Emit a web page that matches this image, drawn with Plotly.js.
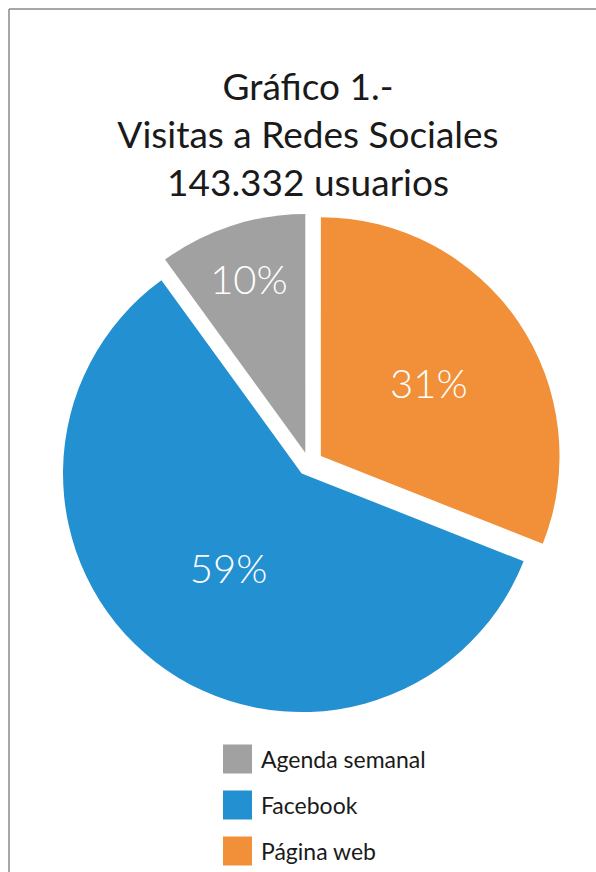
<!DOCTYPE html>
<html><head><meta charset="utf-8">
<script src="https://cdn.plot.ly/plotly-3.0.1.min.js"></script>
<style>html,body{margin:0;padding:0;background:#fff;} #chart{width:596px;height:872px;}</style>
</head><body><div id="chart"></div>
<script>
const categories = ['Agenda semanal', 'Facebook', 'Página web'];
const percentages = [10, 59, 31];
const colors = ['#A0A1A0', '#2290D1', '#F19039'];
const titleLines = ['Gráfico 1.-', 'Visitas a Redes Sociales', '143.332 usuarios'];

const W = 596, H = 872;
const px = x => x / W, py = y => 1 - y / H;
const FONT = 'Lato, "Open Sans", sans-serif';

// Slices run clockwise from 12 o'clock: Página web, Facebook, Agenda semanal
const rev = a => a.slice().reverse();

const trace = {
  type: 'pie',
  labels: rev(categories),
  values: rev(percentages),
  sort: false,
  direction: 'clockwise',
  rotation: 0,
  marker: {colors: rev(colors), line: {width: 0}},
  pull: [0.06, 0.05, 0.05],
  textinfo: 'percent',
  textposition: 'inside',
  insidetextorientation: 'horizontal',
  textfont: {family: FONT, size: 40, color: '#ffffff', weight: 300},
  hoverinfo: 'none',
  showlegend: false,
  domain: {x: [px(56), px(562)], y: [py(717), py(211)]}
};

const shapes = [
  {type: 'line', xref: 'paper', yref: 'paper', x0: px(9), x1: 1.01, y0: py(9), y1: py(9), line: {color: '#8a8a8a', width: 1.5}},
  {type: 'line', xref: 'paper', yref: 'paper', x0: px(9), x1: px(9), y0: py(9), y1: -0.01, line: {color: '#8a8a8a', width: 1.5}}
];
const annotations = [];
categories.forEach((c, i) => {
  const cy = 759 + 46 * i;
  shapes.push({type: 'rect', xref: 'paper', yref: 'paper', x0: px(223), x1: px(252), y0: py(cy + 14.5), y1: py(cy - 14.5), fillcolor: colors[i], line: {width: 0}});
  annotations.push({xref: 'paper', yref: 'paper', x: px(259), y: py(cy), xanchor: 'left', yanchor: 'middle', text: c, showarrow: false, font: {family: FONT, size: 23, color: '#1a1a1a'}});
});

const layout = {
  width: W, height: H,
  margin: {l: 0, r: 0, t: 0, b: 0},
  paper_bgcolor: '#ffffff',
  title: {text: titleLines.join('<br>'), font: {family: FONT, size: 37, color: '#1a1a1a'}, x: px(308), xanchor: 'center', xref: 'paper', y: 1 - 100 / H, yanchor: 'top', yref: 'container'},
  shapes: shapes,
  annotations: annotations,
  showlegend: false
};
Plotly.newPlot('chart', [trace], layout, {displayModeBar: false, staticPlot: true});
</script></body></html>
